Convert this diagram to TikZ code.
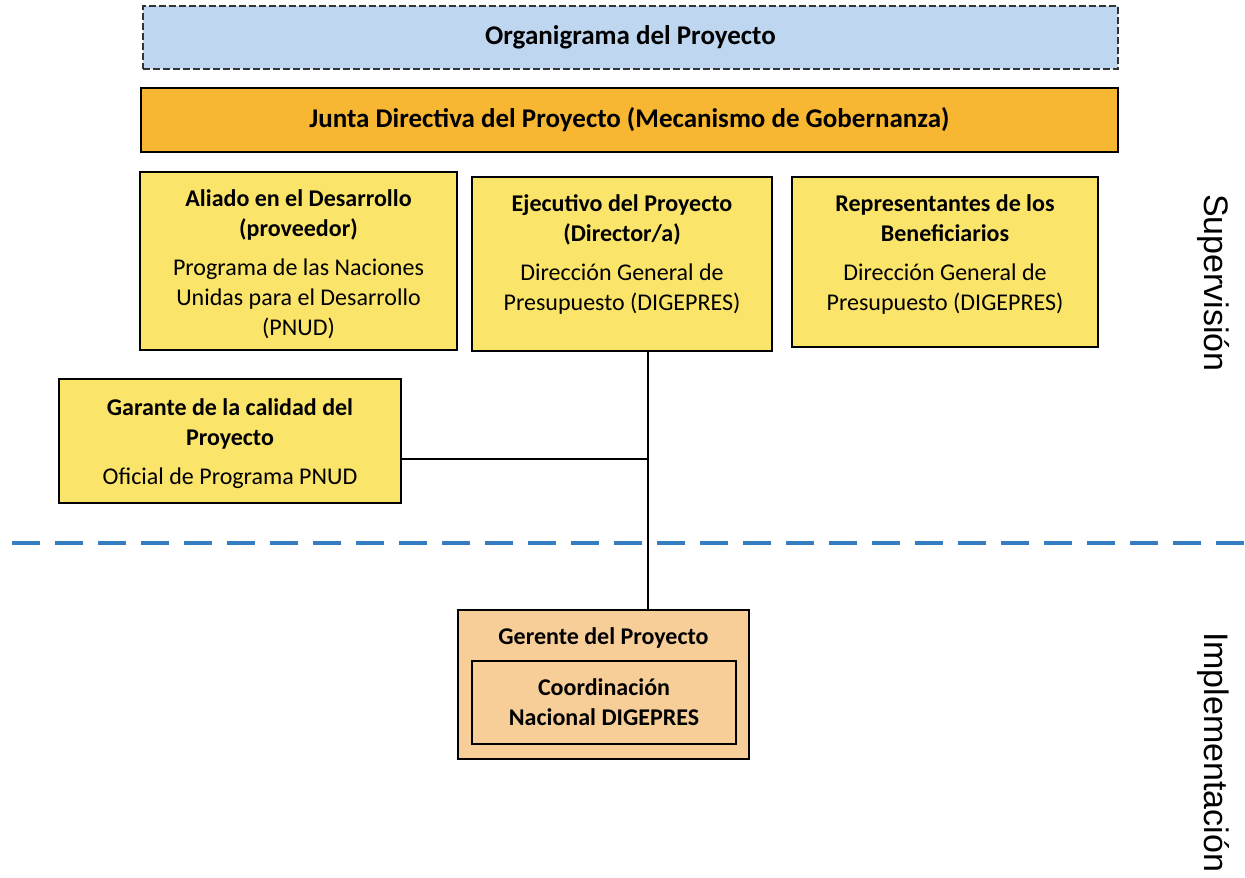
\documentclass[tikz,border=0pt]{standalone}
\usepackage{fontspec}
\setmainfont{Carlito}
\newfontfamily\sidefont{Liberation Sans}
\usetikzlibrary{positioning}

\definecolor{orgblue}{RGB}{190,214,240}
\definecolor{juntaorange}{RGB}{247,183,50}
\definecolor{boxyellow}{RGB}{250,228,105}
\definecolor{gerpeach}{RGB}{248,206,152}
\definecolor{lineblue}{RGB}{52,125,192}

\tikzset{
    box/.style={draw=black, line width=0.9pt, inner sep=0pt},
    ybox/.style={box, fill=boxyellow},
    txt/.style={align=center, inner sep=0pt, font=\fontsize{12}{15}\selectfont},
    bartxt/.style={align=center, inner sep=0pt, font=\fontsize{13.5}{16}\selectfont\bfseries},
    link/.style={line width=1pt},
    side/.style={rotate=-90, inner sep=0pt, font=\sidefont\fontsize{17}{20}\selectfont}
}

\begin{document}
\begin{tikzpicture}[x=0.5pt, y=-0.5pt]
\useasboundingbox (0,0) rectangle (1245,877);

% top bars
\node[box, draw=black!80, dash pattern=on 3.5pt off 1.5pt, fill=orgblue, minimum width=487.5pt, minimum height=31.5pt, bartxt] (orga) at (630.5,37.5) {Organigrama del Proyecto};
\node[box, fill=juntaorange, minimum width=488.5pt, minimum height=32pt, bartxt] (junta) at (629.5,120) {Junta Directiva del Proyecto (Mecanismo de Gobernanza)};

% supervision boxes
\node[ybox, minimum width=158.5pt, minimum height=89pt] (aliado) at (298.5,261) {};
\node[txt, below=9pt of aliado.north] (aliado-t) {\textbf{Aliado en el Desarrollo}\\\textbf{(proveedor)}\\[4.5pt]Programa de las Naciones\\Unidas para el Desarrollo\\(PNUD)};

\node[ybox, minimum width=150pt, minimum height=87pt] (ejec) at (622,264) {};
\node[txt, below=9pt of ejec.north] (ejec-t) {\textbf{Ejecutivo del Proyecto}\\\textbf{(Director/a)}\\[4.5pt]Dirección General de\\Presupuesto (DIGEPRES)};

\node[ybox, minimum width=153pt, minimum height=85pt] (repr) at (945,262) {};
\node[txt, below=9pt of repr.north] (repr-t) {\textbf{Representantes de los}\\\textbf{Beneficiarios}\\[4.5pt]Dirección General de\\Presupuesto (DIGEPRES)};

\node[ybox, minimum width=171pt, minimum height=62pt] (garante) at (230,441) {};
\node[txt, below=10pt of garante.north] (garante-t) {\textbf{Garante de la calidad del}\\\textbf{Proyecto}\\[4.5pt]Oficial de Programa PNUD};

% implementation
\node[box, fill=gerpeach, minimum width=145.5pt, minimum height=74.5pt] (gerente) at (603.5,684.5) {};
\node[txt, below=9pt of gerente.north] (gerente-t) {\textbf{Gerente del Proyecto}};
\node[box, minimum width=132pt, minimum height=41.5pt, txt] (coord) at (604,702.5) {\textbf{Coordinación}\\\textbf{Nacional DIGEPRES}};

% links
\coordinate (tee) at (648,459);
\draw[link] (ejec.south -| tee) -- (gerente.north -| tee);
\draw[link] (garante.east |- tee) -- (tee);

% divider
\coordinate (div-l) at (12,543);
\coordinate (div-r) at (1245,543);
\draw[lineblue, line width=2pt, dash pattern=on 14pt off 7.5pt] (div-l) -- (div-r);

\node[side] (sup) at (1213,283) {Supervisión};
\node[side] (impl) at (1213,752) {Implementación};

\end{tikzpicture}
\end{document}
